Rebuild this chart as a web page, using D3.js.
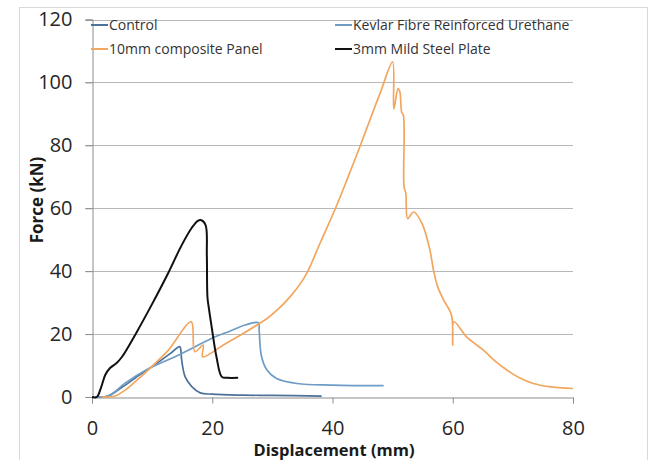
<!DOCTYPE html>
<html>
<head>
<meta charset="utf-8">
<script src="https://cdn.jsdelivr.net/npm/d3@7"></script>
<style>
  body { margin: 0; background: #fff; }
  text { font-family: "Open Sans", "Noto Sans", sans-serif; }
</style>
</head>
<body>
<div id="chart"></div>
<script>
// series data [displacement mm, force kN]
var controlData = [[0.5,0],[2,0],[3,0.6],[5,3.1],[8,7.1],[11,11],[13,13.8],[14.6,16],[14.8,14.5],[14.9,12],[15.5,6.4],[16.6,3.3],[18,1.3],[20,0.9],[25,0.6],[30,0.5],[38.2,0.3]];
var kevlarData = [[0.5,0],[2,0],[3,0.5],[5.5,4.4],[9,8.6],[14.6,13.5],[20.2,18.9],[23,21],[25.5,22.9],[27.7,23.6],[27.8,21.3],[28.2,12.8],[29.1,8.6],[30.7,5.9],[34.1,4.3],[40,3.8],[48.5,3.6]];
var panelData = [[1.6,0],[3.8,0.3],[5.5,2.2],[7.2,4.9],[9.9,9.6],[12.7,14.9],[16.5,23.9],[17.1,14.4],[18.5,16.5],[18.4,12.8],[22,16.7],[25,20],[27.7,23.2],[29,24.8],[31,28],[33,32],[35,37],[36,40.4],[38,49.2],[40.5,60],[42.5,69.5],[44.6,79.8],[46.5,89.5],[48,97],[50.0,106.5],[50.2,91.6],[50.9,98],[51.2,97],[51.5,90.6],[51.8,89.5],[51.9,66.8],[52.2,64.7],[52.5,56.7],[53.5,58.8],[54.9,55.1],[56.2,46.7],[56.8,40.3],[57.5,35],[58.5,30.8],[59.8,26],[60.0,16.5],[60.2,23.9],[62.3,19.1],[65.1,14.9],[67,11.5],[69,8.6],[71,6.2],[73.4,4.3],[76,3.3],[80,2.7]];
var steelData = [[0,0],[0.8,0],[1.5,3],[2.2,7],[3,9.2],[4.1,10.8],[5,12.8],[6,15.8],[7.2,19.8],[9.9,29.2],[12.7,39.5],[14.9,48.2],[16.6,53.8],[17.6,56],[18.2,56.2],[18.9,54.6],[19.1,45],[19.2,31.8],[19.4,28.7],[19.9,22.3],[20.7,12.8],[21.6,6.4],[22.5,6.1],[24.3,6.1]];

var seriesNames = ["Control", "Kevlar Fibre Reinforced Urethane", "10mm composite Panel", "3mm Mild Steel Plate"];
var seriesColors = ["#4d7299", "#6e9cc6", "#f2a65e", "#111111"];
var xTicks = [0, 20, 40, 60, 80];
var yTicks = [0, 20, 40, 60, 80, 100, 120];

var width = 650, height = 460;
var margin = { left: 92, right: 77, top: 19.5, bottom: 63 };

var svg = d3.select("#chart").append("svg")
    .attr("width", width)
    .attr("height", height);

// outer chart border
svg.append("rect")
    .attr("x", 19.5).attr("y", 7.5)
    .attr("width", 628).attr("height", 470)
    .attr("fill", "none").attr("stroke", "#d9d9d9");

var x = d3.scaleLinear().domain([0, 80]).range([margin.left, width - margin.right]);
var y = d3.scaleLinear().domain([0, 120]).range([height - margin.bottom, margin.top]);

// gridlines
svg.append("g").selectAll("line")
    .data(yTicks.filter(function(d) { return d > 0; }))
    .enter().append("line")
    .attr("x1", x(0) - 7).attr("x2", x(80))
    .attr("y1", function(d) { return Math.round(y(d)) + 0.5; })
    .attr("y2", function(d) { return Math.round(y(d)) + 0.5; })
    .attr("stroke", "#b7b7b7");

// y axis
var yAxis = svg.append("g")
    .attr("transform", "translate(" + (Math.round(x(0)) + 0.5) + ",0)")
    .call(d3.axisLeft(y).tickValues(yTicks).tickSize(7).tickPadding(13));
// x axis
var xAxis = svg.append("g")
    .attr("transform", "translate(0," + (Math.round(y(0)) + 0.5) + ")")
    .call(d3.axisBottom(x).tickValues(xTicks).tickSize(6).tickPadding(17));

[yAxis, xAxis].forEach(function(a) {
    a.select(".domain").attr("stroke", "#8c8c8c");
    a.selectAll(".tick line").attr("stroke", "#8c8c8c");
    a.selectAll(".tick text").attr("font-size", 20).attr("fill", "#262626")
        .style("font-family", "'Open Sans', sans-serif");
});

// axis titles
svg.append("text")
    .attr("transform", "translate(43,200) rotate(-90)")
    .attr("text-anchor", "middle")
    .attr("font-size", 17).attr("font-weight", "bold").attr("fill", "#1a1a1a")
    .text("Force (kN)");
svg.append("text")
    .attr("x", 334).attr("y", 456)
    .attr("text-anchor", "middle")
    .attr("font-size", 16.5).attr("font-weight", "bold").attr("fill", "#1a1a1a")
    .text("Displacement (mm)");

// lines
var line = d3.line()
    .x(function(d) { return x(d[0]); })
    .y(function(d) { return y(d[1]); })
    .curve(d3.curveCatmullRom.alpha(0.5));

var allData = [controlData, kevlarData, panelData, steelData];
svg.append("g").selectAll("path")
    .data(allData)
    .enter().append("path")
    .attr("d", line)
    .attr("fill", "none")
    .attr("stroke", function(d, i) { return seriesColors[i]; })
    .attr("stroke-width", function(d, i) { return i === 3 ? 2 : 1.7; })
    .attr("stroke-linejoin", "round");

// legend
var legendPos = [[91, 25], [335, 25], [91, 49], [335, 49]];
var legend = svg.append("g").selectAll("g")
    .data(seriesNames)
    .enter().append("g")
    .attr("transform", function(d, i) { return "translate(" + legendPos[i][0] + "," + legendPos[i][1] + ")"; });
legend.append("line")
    .attr("x1", 0).attr("x2", 17)
    .attr("stroke", function(d, i) { return seriesColors[i]; })
    .attr("stroke-width", 2);
legend.append("text")
    .attr("x", 18).attr("dy", "0.35em")
    .attr("font-size", 14).attr("fill", "#333")
    .text(function(d) { return d; });
</script>
</body>
</html>
